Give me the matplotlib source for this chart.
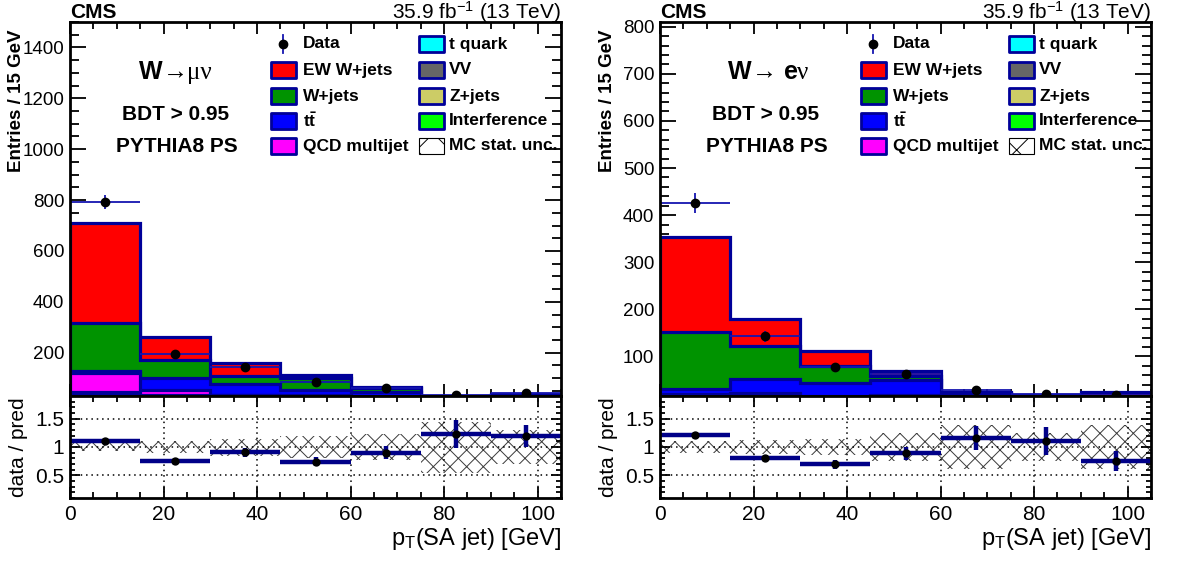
import numpy as np
import matplotlib
matplotlib.use("Agg")
import matplotlib.pyplot as plt
from matplotlib.patches import Rectangle
from matplotlib.lines import Line2D
from matplotlib.ticker import MultipleLocator, FuncFormatter

plt.rcParams['font.family'] = ['Liberation Sans', 'DejaVu Sans']
plt.rcParams['mathtext.fontset'] = 'custom'
plt.rcParams['mathtext.rm'] = 'Liberation Sans'
plt.rcParams['mathtext.it'] = 'Liberation Sans:italic'
plt.rcParams['mathtext.bf'] = 'Liberation Sans:bold'
plt.rcParams['hatch.linewidth'] = 0.7

# ---------------- data ----------------
bin_edges = [0, 15, 30, 45, 60, 75, 90, 105]
# stack order bottom -> top
stack_names = ["Interference", "Z+jets", "VV", "t quark", "QCD multijet", "ttbar", "W+jets", "EW W+jets"]

# muon channel
mu_interference = [2, 1, 1, 1, 1, 0.5, 0.5]
mu_zjets = [24, 13, 11, 9, 8, 3, 3]
mu_vv = [6, 7, 8, 8, 8, 3.5, 4]
mu_tquark = [12, 12, 13, 12, 11, 5, 6.5]
mu_qcd = [75, 22, 2, 2, 1, 1, 1]
mu_ttbar = [9, 47, 42, 23, 16, 5, 9]
mu_wjets = [189, 70, 33, 47, 15, 5, 8]
mu_ewwjets = [394, 90, 50, 11, 7, 3, 4]
mu_data = [792, 195, 145, 84, 60, 32, 43]
mu_data_err = [28, 14, 12, 9.2, 7.7, 6.5, 7.0]
mu_mc_rel_unc = [0.07, 0.10, 0.15, 0.19, 0.23, 0.45, 0.30]

# electron channel
e_interference = [1, 0.5, 0.5, 0.5, 0.5, 0.3, 0.3]
e_zjets = [8, 5, 4, 3, 2, 1.5, 1.7]
e_vv = [3, 3, 4, 3.5, 2.5, 2, 2.5]
e_tquark = [6, 5.5, 5.5, 5, 3, 2.2, 2.5]
e_qcd = [2, 9, 1, 6, 1, 1, 2]
e_ttbar = [10, 29, 28, 32, 11, 7, 5]
e_wjets = [121, 71, 36, 8, 2, 3, 3]
e_ewwjets = [202, 56, 33, 12, 3, 2, 7]
e_data = [426, 143, 78, 62, 29, 21, 18]
e_data_err = [21, 12, 9, 8, 5.4, 4.6, 4.2]
e_mc_rel_unc = [0.10, 0.12, 0.14, 0.25, 0.38, 0.25, 0.38]

# ---------------- style ----------------
NAVY = '#000099'
colors = {"Interference": '#00FF00', "Z+jets": '#CCCC66', "VV": '#666666', "t quark": '#00FFFF',
          "QCD multijet": '#FF00FF', "ttbar": '#0000FF', "W+jets": '#009300', "EW W+jets": '#FF0000'}

FW, FH = 1182, 567
fig = plt.figure(figsize=(FW / 100, FH / 100), dpi=100)


def fx(x):
    return x / FW


def fy(y):
    return 1 - y / FH


def draw_panel(x0, stack, data, data_err, rel_unc, ylim, ymaj, ymin_, label_parts, ox):
    w = 491
    ax = fig.add_axes([fx(x0), fy(396), w / FW, (396 - 22) / FH])
    axr = fig.add_axes([fx(x0), fy(498), w / FW, (498 - 396) / FH])
    edges = np.array(bin_edges, dtype=float)
    centers = 0.5 * (edges[1:] + edges[:-1])
    halfw = 0.5 * (edges[1:] - edges[:-1])
    vals = np.array([stack[n] for n in stack_names], dtype=float)
    cum = np.cumsum(vals, axis=0)
    for i in reversed(range(len(stack_names))):
        ax.stairs(cum[i], edges, baseline=0, fill=True, facecolor=colors[stack_names[i]],
                  edgecolor=NAVY, linewidth=2.3, zorder=2)
    total = cum[-1]
    data = np.array(data, float)
    derr = np.array(data_err, float)
    ax.errorbar(centers, data, yerr=derr, xerr=halfw, fmt='o', ms=6, mfc='black', mec='black',
                ecolor='#1515b0', elinewidth=1.3, capsize=0, zorder=5)
    ax.set_xlim(0, 105)
    ax.set_ylim(*ylim)
    ax.xaxis.set_major_locator(MultipleLocator(20))
    ax.xaxis.set_minor_locator(MultipleLocator(5))
    ax.yaxis.set_major_locator(MultipleLocator(ymaj))
    ax.yaxis.set_minor_locator(MultipleLocator(ymin_))
    ax.tick_params(which='both', direction='in', top=True, right=True, labelbottom=False,
                   labelsize=13.5, width=1.3, pad=4)
    ax.tick_params(axis='y', which='major', length=11.5)
    ax.tick_params(axis='y', which='minor', length=6.5)
    ax.tick_params(axis='x', which='major', length=8.6)
    ax.tick_params(axis='x', which='minor', length=5)
    for s in ax.spines.values():
        s.set_linewidth(2.0)
        s.set_zorder(10)

    # ratio
    ratio = data / total
    rerr = derr / total
    unc = np.array(rel_unc, float)
    axr.bar(centers, 2 * unc, bottom=1 - unc, width=2 * halfw, facecolor='none',
            edgecolor='#3a3a3a', hatch='xx', linewidth=0, zorder=2)
    axr.grid(True, which='major', linestyle=(0, (1, 2.5)), color='black', linewidth=1.1)
    axr.set_axisbelow(False)
    axr.errorbar(centers, ratio, yerr=rerr, xerr=halfw, fmt='o', ms=5, mfc='black', mec='black',
                 ecolor='#000088', elinewidth=3.2, capsize=0, zorder=5)
    axr.set_xlim(0, 105)
    axr.set_ylim(0.1, 1.9)
    axr.xaxis.set_major_locator(MultipleLocator(20))
    axr.xaxis.set_minor_locator(MultipleLocator(5))
    axr.yaxis.set_major_locator(MultipleLocator(0.5))
    axr.yaxis.set_minor_locator(MultipleLocator(0.1))
    axr.yaxis.set_major_formatter(FuncFormatter(lambda v, p: f'{v:g}'))
    axr.tick_params(which='both', direction='in', top=True, right=True, labelsize=15, width=1.3)
    axr.tick_params(axis='x', which='both', pad=5)
    axr.tick_params(axis='y', which='both', pad=4)
    axr.tick_params(axis='x', which='major', length=8)
    axr.tick_params(axis='x', which='minor', length=4.5)
    axr.tick_params(axis='y', which='major', length=7)
    axr.tick_params(axis='y', which='minor', length=3.5)
    for s in axr.spines.values():
        s.set_linewidth(2.0)
        s.set_zorder(10)

    # texts
    fig.text(fx(x0), fy(18.5), "CMS", fontsize=15, fontweight='bold', ha='left', va='baseline')
    fig.text(fx(x0 + w), fy(18.5), r"35.9 fb$^{-1}$ (13 TeV)", fontsize=15, ha='right', va='baseline')
    fig.text(fx(ox + 17), fy(30), "Entries / 15 GeV", fontsize=13.5, fontweight='bold', rotation=90,
             ha='center', va='top')
    fig.text(fx(ox + 19), fy(447), "data / pred", fontsize=15, rotation=90, ha='center', va='center')
    fig.text(fx(x0 + w), fy(545), r"p$_{\mathrm{T}}$(SA jet) [GeV]", fontsize=17, ha='right', va='baseline')
    for (px, txt, fam, wt, ha, fs) in label_parts:
        fig.text(fx(ox + px), fy(79), txt, fontsize=fs, family=fam, fontweight=wt, ha=ha, va='baseline')
    fig.text(fx(ox + 176), fy(115), "BDT > 0.95", fontsize=15, fontweight='bold', ha='center', va='center')
    fig.text(fx(ox + 177), fy(146), "PYTHIA8 PS", fontsize=15, fontweight='bold', ha='center', va='center')

    # legend
    rows = [44, 70, 96, 121, 146]
    col1 = [("Data", None), ("EW W+jets", colors["EW W+jets"]), ("W+jets", colors["W+jets"]),
            (r"$\mathbf{t\bar{t}}$", colors["ttbar"]), ("QCD multijet", colors["QCD multijet"])]
    col2 = [("t quark", colors["t quark"]), ("VV", colors["VV"]), ("Z+jets", colors["Z+jets"]),
            ("Interference", colors["Interference"]), ("MC stat. unc.", 'hatch')]
    for (cx, tx, entries) in [(ox + 270, ox + 303, col1), (ox + 418, ox + 449, col2)]:
        for y, (name, col) in zip(rows, entries):
            if col is None:
                fig.add_artist(Line2D([fx(cx + 13)] * 2, [fy(y - 9), fy(y + 9)], transform=fig.transFigure,
                                      color='#1515b0', lw=1.3))
                fig.add_artist(Line2D([fx(cx + 13)], [fy(y)], transform=fig.transFigure, marker='o',
                                      ms=6, color='black', lw=0))
            elif col == 'hatch':
                fig.add_artist(Rectangle((fx(cx + 1), fy(y + 8)), 25 / FW, 16 / FH, transform=fig.transFigure,
                                         facecolor='white', edgecolor='black', hatch='x', lw=0.8))
            else:
                fig.add_artist(Rectangle((fx(cx + 1), fy(y + 8)), 25 / FW, 16 / FH, transform=fig.transFigure,
                                         facecolor=col, edgecolor=NAVY, lw=2.0, joinstyle='round'))
            fig.text(fx(tx), fy(y), name, fontsize=12.5, fontweight='bold', ha='left', va='center')


mu_stack = {"Interference": mu_interference, "Z+jets": mu_zjets, "VV": mu_vv, "t quark": mu_tquark,
            "QCD multijet": mu_qcd, "ttbar": mu_ttbar, "W+jets": mu_wjets, "EW W+jets": mu_ewwjets}
e_stack = {"Interference": e_interference, "Z+jets": e_zjets, "VV": e_vv, "t quark": e_tquark,
           "QCD multijet": e_qcd, "ttbar": e_ttbar, "W+jets": e_wjets, "EW W+jets": e_ewwjets}

mu_label = [(163, "W", "Liberation Sans", "bold", "right", 18),
            (163, "\u2192\u03bc\u03bd", "Liberation Serif", "normal", "left", 18)]
e_label = [(162, "W", "Liberation Sans", "bold", "right", 18),
           (162, "\u2192", "Liberation Serif", "normal", "left", 18),
           (194, "e", "Liberation Sans", "bold", "left", 18),
           (207, "\u03bd", "Liberation Serif", "normal", "left", 18)]

draw_panel(70, mu_stack, mu_data, mu_data_err, mu_mc_rel_unc, (30, 1500), 200, 50, mu_label, 0)
draw_panel(660, e_stack, e_data, e_data_err, e_mc_rel_unc, (16, 810), 100, 20, e_label, 590)

fig.savefig("out.png", dpi=100)
